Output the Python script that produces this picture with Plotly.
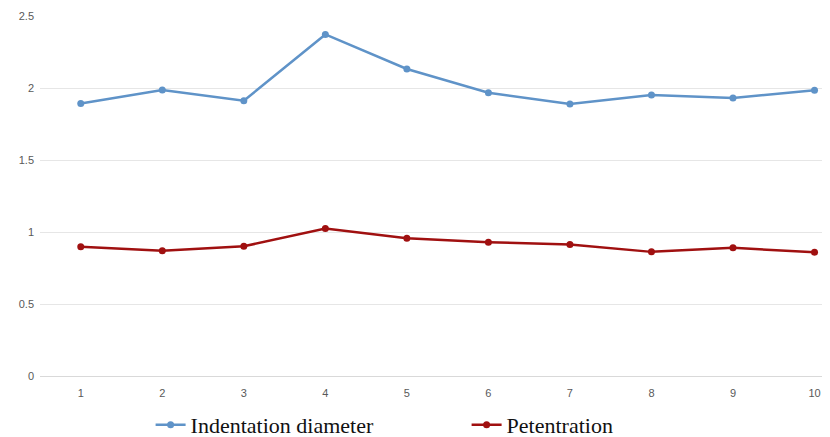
import plotly.graph_objects as go

samples = [1, 2, 3, 4, 5, 6, 7, 8, 9, 10]
indentation_diameter = [1.893, 1.986, 1.912, 2.372, 2.132, 1.967, 1.889, 1.951, 1.930, 1.985]
petentration = [0.897, 0.869, 0.901, 1.024, 0.957, 0.929, 0.913, 0.862, 0.890, 0.860]
y_ticks = [0, 0.5, 1, 1.5, 2, 2.5]
y_tick_labels = ["0", "0.5", "1", "1.5", "2", "2.5"]

fig = go.Figure()
fig.add_trace(go.Scatter(
    x=samples, y=indentation_diameter, mode="lines+markers",
    name="Indentation diameter",
    line=dict(color="#5F93C8", width=2.5),
    marker=dict(color="#5F93C8", size=7),
    cliponaxis=False,
))
fig.add_trace(go.Scatter(
    x=samples, y=petentration, mode="lines+markers",
    name="Petentration",
    line=dict(color="#A01010", width=2.5),
    marker=dict(color="#A01010", size=7),
    cliponaxis=False,
))

fig.update_layout(
    width=830, height=437,
    margin=dict(l=32, r=8, t=8, b=69, autoexpand=False),
    paper_bgcolor="white", plot_bgcolor="white",
    showlegend=True,
    legend=dict(
        orientation="h", x=0.14, xanchor="left", y=-0.136, yanchor="middle",
        font=dict(family="Liberation Serif, Times New Roman, serif", size=22, color="#111111"),
        entrywidth=271, itemwidth=30, bgcolor="rgba(0,0,0,0)",
    ),
    xaxis=dict(
        range=[0.5, 10.19], tickvals=samples, ticktext=[str(s) for s in samples],
        showgrid=False, zeroline=False, showline=False, ticks="",
        automargin=False, ticklabelstandoff=9,
        tickfont=dict(family="Liberation Sans, Arial, sans-serif", size=11, color="#595959"),
        fixedrange=True,
    ),
    yaxis=dict(
        range=[0, 2.5], tickvals=y_ticks, ticktext=y_tick_labels,
        showgrid=True, gridcolor="#E6E6E6", gridwidth=1,
        zeroline=True, zerolinecolor="#D9D9D9", zerolinewidth=1,
        showline=False, ticks="", automargin=False, ticklabelstandoff=5,
        tickfont=dict(family="Liberation Sans, Arial, sans-serif", size=11, color="#595959"),
        fixedrange=True,
    ),
)

fig.write_html("out.html")
